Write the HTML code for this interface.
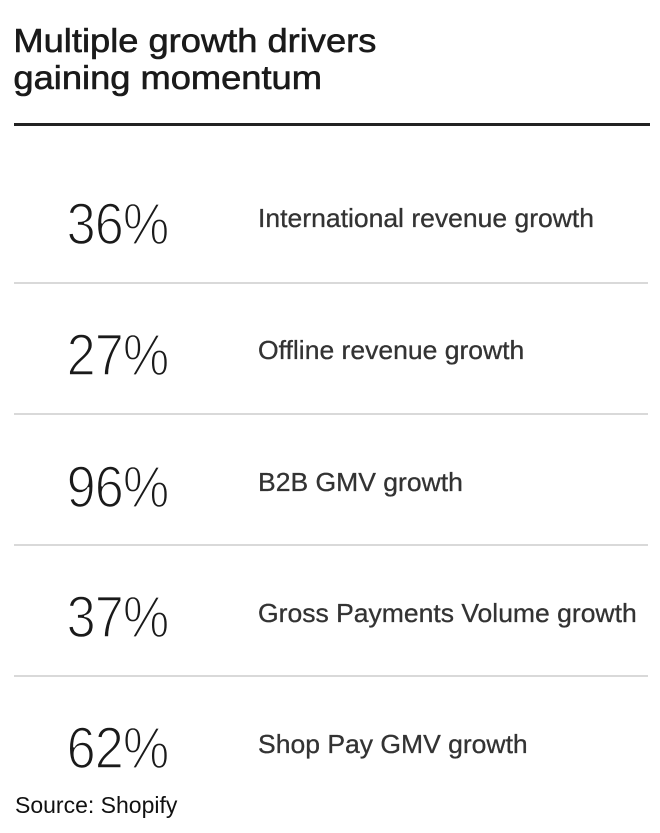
<!DOCTYPE html>
<html><head><meta charset="utf-8"><style>
html,body{margin:0;padding:0;background:#fff;}
svg{display:block}
</style></head><body>
<svg width="660" height="833" xmlns="http://www.w3.org/2000/svg" font-family="Liberation Sans, sans-serif">
<rect width="660" height="833" fill="#fff"/>
<g font-size="33" fill="#1a1a1a" stroke="#1a1a1a" stroke-width="0.6" transform="scale(1.1,1)">
<text x="12.2" y="52">Multiple growth drivers</text>
<text x="12.2" y="89">gaining momentum</text>
</g>
<rect x="14" y="123" width="636" height="3" fill="#222"/>
<g fill="#d9d9d9">
<rect x="14" y="282" width="634" height="2"/>
<rect x="14" y="413" width="634" height="2"/>
<rect x="14" y="544" width="634" height="2"/>
<rect x="14" y="675" width="634" height="2"/>
</g>
<g font-size="58" fill="#1a1a1a" stroke="#fff" stroke-width="1.6" letter-spacing="-1" transform="scale(0.9,1)">
<text x="74" y="244">36%</text>
<text x="74" y="375">27%</text>
<text x="74" y="507">96%</text>
<text x="74" y="637">37%</text>
<text x="74" y="768">62%</text>
</g>
<g font-size="26" fill="#333" stroke="#333" stroke-width="0.3" transform="scale(1.02,1)">
<text x="253" y="227">International revenue growth</text>
<text x="253" y="359">Offline revenue growth</text>
<text x="253" y="491">B2B GMV growth</text>
<text x="253" y="622">Gross Payments Volume growth</text>
<text x="253" y="753">Shop Pay GMV growth</text>
</g>
<text x="15" y="813" font-size="23" fill="#111">Source: Shopify</text>
</svg>
</body></html>
